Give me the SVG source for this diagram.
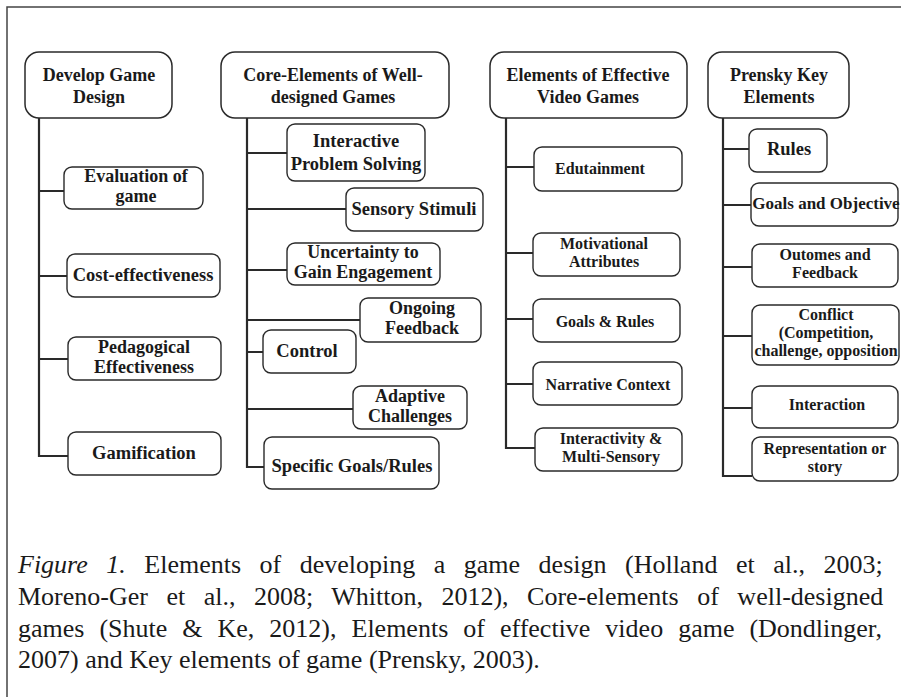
<svg xmlns="http://www.w3.org/2000/svg" width="901" height="697" viewBox="0 0 901 697">
  <defs>
    <style>
      .frame { fill: none; stroke: #444; stroke-width: 1.5; }
      .head { fill: #fff; stroke: #2a2a2a; stroke-width: 1.5; }
      .box { fill: #fff; stroke: #2a2a2a; stroke-width: 1.4; }
      .wire { fill: none; stroke: #2a2a2a; stroke-width: 2.2; }
      text { font-family: "Liberation Serif", "Times New Roman", serif; fill: #1a1a1a; }
      .h { font-size: 18px; font-weight: bold; text-anchor: middle; }
      .t { font-size: 18.5px; font-weight: bold; text-anchor: middle; }
      .t2 { font-size: 18px; font-weight: bold; text-anchor: middle; }
      .s { font-size: 16px; font-weight: bold; text-anchor: middle; }
      .cap { font-size: 26px; }
    </style>
  </defs>

  <rect width="901" height="697" fill="#fff"/>
  <!-- page frame, open at right and bottom -->
  <path class="frame" d="M901,7 H7 V697"/>

  <!-- connectors -->
  <g id="connectors">
    <path class="wire" d="M39,118 V456 H68 M39,191 H64 M39,276 H67 M39,359 H68"/>
    <path class="wire" d="M247,118 V467 H264 M247,153 H287 M247,209 H346 M247,270 H287 M247,320 H360 M247,352 H263 M247,409 H353"/>
    <path class="wire" d="M506,118 V448 H535 M506,167 H534 M506,253 H533 M506,319 H533 M506,384 H533"/>
    <path class="wire" d="M723,118 V476 H752 M723,149 H749 M723,205 H751 M723,267 H752 M723,336 H752 M723,408 H752"/>
  </g>

  <!-- column 1 -->
  <g id="develop-game-design">
    <rect class="head" x="25" y="52" width="147" height="66" rx="14"/>
    <text class="h" x="99" y="81">Develop Game</text>
    <text class="h" x="99" y="103">Design</text>
  </g>
  <g id="evaluation-of-game">
    <rect class="box" x="64" y="167" width="139" height="42" rx="8"/>
    <text class="t2" x="136" y="182">Evaluation of</text>
    <text class="t2" x="136" y="202">game</text>
  </g>
  <g id="cost-effectiveness">
    <rect class="box" x="67" y="254" width="153" height="43" rx="8"/>
    <text class="t" x="143" y="281">Cost-effectiveness</text>
  </g>
  <g id="pedagogical-effectiveness">
    <rect class="box" x="68" y="337" width="153" height="43" rx="8"/>
    <text class="t2" x="144" y="353">Pedagogical</text>
    <text class="t2" x="144" y="373">Effectiveness</text>
  </g>
  <g id="gamification">
    <rect class="box" x="68" y="432" width="153" height="43" rx="8"/>
    <text class="t" x="144" y="459">Gamification</text>
  </g>

  <!-- column 2 -->
  <g id="core-elements">
    <rect class="head" x="221" y="52" width="228" height="66" rx="14"/>
    <text class="h" x="333" y="81">Core-Elements of Well-</text>
    <text class="h" x="333" y="103">designed Games</text>
  </g>
  <g id="interactive-problem-solving">
    <rect class="box" x="287" y="124" width="138" height="57" rx="8"/>
    <text class="t" x="356" y="147">Interactive</text>
    <text class="t" x="356" y="170">Problem Solving</text>
  </g>
  <g id="sensory-stimuli">
    <rect class="box" x="346" y="188" width="137" height="43" rx="8"/>
    <text class="t" x="414" y="215">Sensory Stimuli</text>
  </g>
  <g id="uncertainty">
    <rect class="box" x="287" y="243" width="153" height="42" rx="8"/>
    <text class="t2" x="363" y="258">Uncertainty to</text>
    <text class="t2" x="363" y="278">Gain Engagement</text>
  </g>
  <g id="ongoing-feedback">
    <rect class="box" x="360" y="298" width="121" height="44" rx="8"/>
    <text class="t2" x="422" y="314">Ongoing</text>
    <text class="t2" x="422" y="334">Feedback</text>
  </g>
  <g id="control">
    <rect class="box" x="263" y="330" width="93" height="43" rx="8"/>
    <text class="t" x="307" y="357">Control</text>
  </g>
  <g id="adaptive-challenges">
    <rect class="box" x="353" y="386" width="114" height="43" rx="8"/>
    <text class="t2" x="410" y="402">Adaptive</text>
    <text class="t2" x="410" y="422">Challenges</text>
  </g>
  <g id="specific-goals-rules">
    <rect class="box" x="264" y="437" width="175" height="52" rx="8"/>
    <text class="t" x="352" y="472">Specific Goals/Rules</text>
  </g>

  <!-- column 3 -->
  <g id="effective-video-games">
    <rect class="head" x="490" y="52" width="197" height="66" rx="14"/>
    <text class="h" x="588" y="81">Elements of Effective</text>
    <text class="h" x="588" y="103">Video Games</text>
  </g>
  <g id="edutainment">
    <rect class="box" x="534" y="147" width="148" height="44" rx="8"/>
    <text class="s" x="600" y="174">Edutainment</text>
  </g>
  <g id="motivational-attributes">
    <rect class="box" x="533" y="233" width="147" height="43" rx="8"/>
    <text class="s" x="604" y="249">Motivational</text>
    <text class="s" x="604" y="267">Attributes</text>
  </g>
  <g id="goals-rules">
    <rect class="box" x="533" y="299" width="147" height="43" rx="8"/>
    <text class="s" x="605" y="327">Goals &amp; Rules</text>
  </g>
  <g id="narrative-context">
    <rect class="box" x="533" y="362" width="149" height="43" rx="8"/>
    <text class="s" x="608" y="390">Narrative Context</text>
  </g>
  <g id="interactivity-multisensory">
    <rect class="box" x="535" y="428" width="147" height="43" rx="8"/>
    <text class="s" x="611" y="444">Interactivity &amp;</text>
    <text class="s" x="611" y="462">Multi-Sensory</text>
  </g>

  <!-- column 4 -->
  <g id="prensky-key-elements">
    <rect class="head" x="708" y="52" width="141" height="66" rx="14"/>
    <text class="h" x="779" y="81">Prensky Key</text>
    <text class="h" x="779" y="103">Elements</text>
  </g>
  <g id="rules">
    <rect class="box" x="749" y="129" width="78" height="43" rx="8"/>
    <text class="t" x="789" y="155">Rules</text>
  </g>
  <g id="goals-objective">
    <rect class="box" x="751" y="183" width="147" height="43" rx="8"/>
    <text class="s" x="826" y="209" style="font-size:17px">Goals and Objective</text>
  </g>
  <g id="outcomes-feedback">
    <rect class="box" x="752" y="244" width="146" height="43" rx="8"/>
    <text class="s" x="825" y="260">Outomes and</text>
    <text class="s" x="825" y="278">Feedback</text>
  </g>
  <g id="conflict">
    <rect class="box" x="752" y="305" width="147" height="60" rx="8"/>
    <text class="s" x="826" y="320">Conflict</text>
    <text class="s" x="826" y="338">(Competition,</text>
    <text class="s" x="826" y="356">challenge, opposition</text>
  </g>
  <g id="interaction">
    <rect class="box" x="752" y="386" width="146" height="42" rx="8"/>
    <text class="s" x="827" y="410">Interaction</text>
  </g>
  <g id="representation-story">
    <rect class="box" x="752" y="437" width="146" height="44" rx="8"/>
    <text class="s" x="825" y="454">Representation or</text>
    <text class="s" x="825" y="472">story</text>
  </g>

  <!-- caption, justified by word spacing -->
  <g id="caption">
    <text class="cap" x="18" y="573" style="word-spacing:12px"><tspan font-style="italic">Figure 1.</tspan> Elements of developing a game design (Holland et al., 2003;</text>
    <text class="cap" x="18" y="605" style="word-spacing:12px">Moreno-Ger et al., 2008; Whitton, 2012), Core-elements of well-designed</text>
    <text class="cap" x="18" y="637" style="word-spacing:8.5px">games (Shute &amp; Ke, 2012), Elements of effective video game (Dondlinger,</text>
    <text class="cap" x="18" y="668">2007) and Key elements of game (Prensky, 2003).</text>
  </g>
</svg>
